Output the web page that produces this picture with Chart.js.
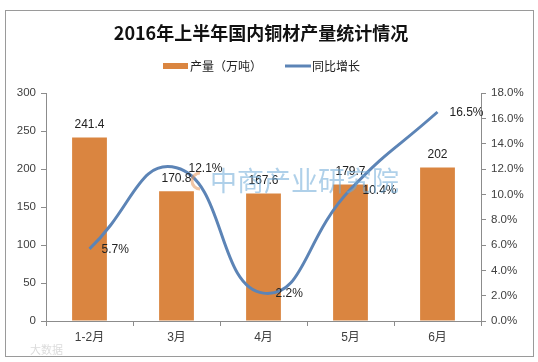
<!DOCTYPE html>
<html>
<head>
<meta charset="utf-8">
<script src="https://cdn.jsdelivr.net/npm/chart.js@4"></script>
<style>
  body { margin: 0; background: #fff; }
</style>
</head>
<body>
<canvas id="chart" width="538" height="362"></canvas>
<script>
const months = ['1-2月', '3月', '4月', '5月', '6月'];
const output = [241.4, 170.8, 167.6, 179.7, 202];   // 产量（万吨）
const growth = [5.7, 12.1, 2.2, 10.4, 16.5];        // 同比增长 %
const leftTicks = [0, 50, 100, 150, 200, 250, 300];
const rightTicks = [0, 2, 4, 6, 8, 10, 12, 14, 16, 18];

const ORANGE = 'rgb(218,133,64)';
const BLUE = 'rgb(92,132,182)';
const AXIS = '#8c8c8c';
const TEXT = '#404040';
const FONT = '"Liberation Sans", "Noto Sans CJK SC", sans-serif';
const CJK = '"Noto Sans CJK SC", sans-serif';

// frame, title, legend and watermark
const decor = {
  id: 'decor',
  beforeDraw(chart) {
    const c = chart.ctx;
    c.save();
    c.fillStyle = '#fff';
    c.fillRect(0, 0, chart.width, chart.height);
    c.strokeStyle = '#9a9a9a';
    c.lineWidth = 1;
    c.strokeRect(5.5, 10.5, 528, 346);

    c.fillStyle = '#111';
    c.font = 'bold 18px ' + CJK;
    c.textAlign = 'center';
    c.textBaseline = 'middle';
    c.fillText('2016年上半年国内铜材产量统计情况', 261, 33);

    c.font = '12px ' + CJK;
    c.textAlign = 'left';
    c.fillStyle = '#222';
    const ds = chart.data.datasets;
    c.fillStyle = ORANGE;
    c.fillRect(163, 63, 25, 6);
    c.fillStyle = '#222';
    c.fillText(ds[1].label, 190, 66);
    c.strokeStyle = BLUE;
    c.lineWidth = 3;
    c.beginPath();
    c.moveTo(285, 66);
    c.lineTo(311, 66);
    c.stroke();
    c.fillText(ds[0].label, 312, 66);
    c.restore();
  },
  afterDatasetsDraw(chart) {
    const c = chart.ctx;
    c.save();
    c.font = '12px ' + FONT;
    c.fillStyle = '#222';
    c.textBaseline = 'middle';

    const bars = chart.getDatasetMeta(1).data;
    c.textAlign = 'center';
    bars.forEach((b, i) => c.fillText(String(output[i]), b.x, b.y - 13));

    const pts = chart.getDatasetMeta(0).data;
    c.textAlign = 'left';
    pts.forEach((p, i) => c.fillText(growth[i].toFixed(1) + '%', p.x + 12, p.y + 1));

    // watermark
    c.globalAlpha = 0.55;
    c.fillStyle = 'rgb(110,170,215)';
    c.font = '27px ' + CJK;
    c.fillText('中商产业研究院', 210, 181);
    c.lineWidth = 3;
    c.strokeStyle = 'rgb(230,150,90)';
    c.beginPath();
    c.arc(200, 181, 8, Math.PI * 0.5, Math.PI * 1.5);
    c.stroke();
    c.globalAlpha = 0.35;
    c.fillStyle = '#999';
    c.font = '11px ' + CJK;
    c.fillText('大数据', 30, 350);
    c.restore();
  }
};

new Chart(document.getElementById('chart'), {
  data: {
    labels: months,
    datasets: [
      {
        type: 'line',
        label: '同比增长',
        data: growth,
        yAxisID: 'y1',
        borderColor: BLUE,
        backgroundColor: BLUE,
        borderWidth: 3,
        pointRadius: 0,
        tension: 0.5,
        order: 0
      },
      {
        type: 'bar',
        label: '产量（万吨）',
        data: output,
        yAxisID: 'y',
        backgroundColor: ORANGE,
        barPercentage: 0.4,
        categoryPercentage: 1,
        order: 1
      }
    ]
  },
  plugins: [decor],
  options: {
    responsive: false,
    animation: false,
    layout: { padding: { top: 93, bottom: 0, left: 0, right: 0 } },
    plugins: {
      legend: { display: false },
      title: { display: false },
      tooltip: { enabled: false }
    },
    scales: {
      x: {
        offset: true,
        grid: { offset: true, drawOnChartArea: false, color: AXIS, tickLength: 5 },
        border: { color: AXIS },
        ticks: { color: TEXT, font: { size: 12, family: FONT }, padding: 4 },
        afterFit(s) { s.height = 41; }
      },
      y: {
        position: 'left',
        min: 0, max: 300,
        afterBuildTicks(s) { s.ticks = leftTicks.map(v => ({ value: v })); },
        grid: { drawOnChartArea: false, color: AXIS, tickLength: 5 },
        border: { color: AXIS },
        ticks: { color: TEXT, font: { size: 11.5, family: FONT }, padding: 5 },
        afterFit(s) { s.width = 46; }
      },
      y1: {
        position: 'right',
        min: 0, max: 18,
        afterBuildTicks(s) { s.ticks = rightTicks.map(v => ({ value: v })); },
        grid: { drawOnChartArea: false, color: AXIS, tickLength: 5 },
        border: { color: AXIS },
        ticks: {
          color: TEXT, font: { size: 11.5, family: FONT }, padding: 5,
          callback: v => v.toFixed(1) + '%'
        },
        afterFit(s) { s.width = 57; }
      }
    }
  }
});
</script>
</body>
</html>
